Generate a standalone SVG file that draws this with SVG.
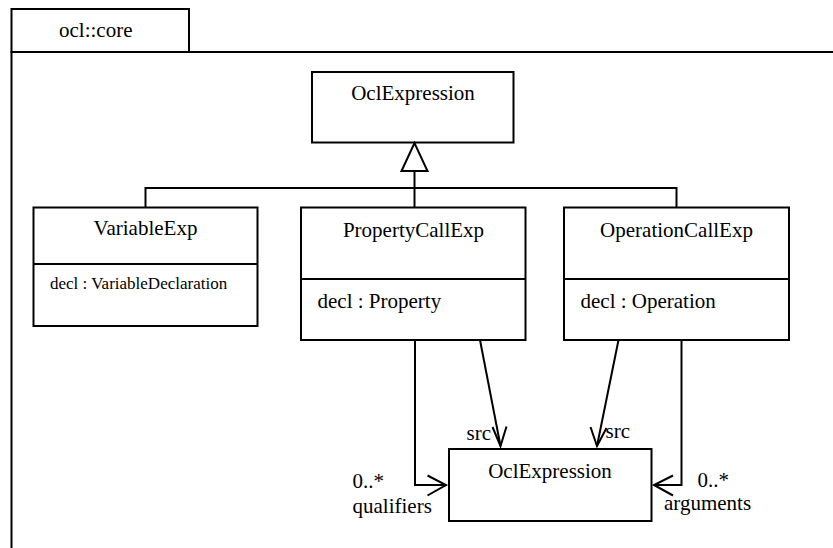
<svg xmlns="http://www.w3.org/2000/svg" width="833" height="548" viewBox="0 0 833 548">
  <style>
    .box { fill: #ffffff; stroke: #000000; stroke-width: 2; }
    .line { fill: none; stroke: #000000; stroke-width: 2; }
    text { font-family: "Liberation Serif", "Times New Roman", serif; font-size: 21px; fill: #000000; }
    .mid { text-anchor: middle; }
    .small { font-size: 17px; }
  </style>

  <!-- package frame ocl::core -->
  <g id="package">
    <path class="line" d="M11.5 560 V52 H845"/>
    <rect class="box" x="11.5" y="9" width="177.5" height="43"/>
    <text x="59" y="37">ocl::core</text>
  </g>

  <g id="OclExpression-top">
    <rect class="box" x="312" y="72" width="201.5" height="70.5"/>
    <text class="mid" x="413" y="100">OclExpression</text>
  </g>

  <g id="VariableExp">
    <rect class="box" x="33.5" y="207.5" width="224" height="118.5"/>
    <line class="line" x1="33.5" y1="264" x2="257.5" y2="264"/>
    <text class="mid" x="145.5" y="235">VariableExp</text>
    <text class="small" x="50" y="289">decl : VariableDeclaration</text>
  </g>

  <g id="PropertyCallExp">
    <rect class="box" x="301" y="207.5" width="224.5" height="132.5"/>
    <line class="line" x1="301" y1="279" x2="525.5" y2="279"/>
    <text class="mid" x="413.5" y="236.5">PropertyCallExp</text>
    <text x="317.5" y="308">decl : Property</text>
  </g>

  <g id="OperationCallExp">
    <rect class="box" x="564" y="207.5" width="225" height="132.5"/>
    <line class="line" x1="564" y1="279" x2="789" y2="279"/>
    <text class="mid" x="676.5" y="236.5">OperationCallExp</text>
    <text x="580.5" y="308">decl : Operation</text>
  </g>

  <g id="OclExpression-bottom">
    <rect class="box" x="449" y="449" width="202.5" height="72"/>
    <text class="mid" x="550" y="477.5">OclExpression</text>
  </g>

  <g id="connectors">
    <!-- generalization tree -->
    <path class="line" d="M145.5 207.5 V188 H676.5 V207.5"/>
    <line class="line" x1="414.5" y1="171" x2="414.5" y2="207.5"/>
    <polygon class="box" points="414.5,143 401.5,171 427.5,171"/>

    <!-- qualifiers -->
    <path class="line" d="M415 340 V485 H446"/>
    <path class="line" d="M427.5 475.5 L446 485 L427.5 495.5"/>

    <!-- arguments -->
    <path class="line" d="M681.5 340 V485 H654"/>
    <path class="line" d="M673 475.5 L654 485 L673 495.5"/>

    <!-- src from PropertyCallExp -->
    <line class="line" x1="480" y1="340" x2="500.5" y2="446"/>
    <path class="line" d="M492.5 427 L500.5 446 L506.5 426.5"/>

    <!-- src from OperationCallExp -->
    <line class="line" x1="618.5" y1="340" x2="597" y2="446"/>
    <path class="line" d="M590.5 427 L597 446 L606.5 428"/>
  </g>

  <g id="labels">
    <text x="466.5" y="440">src</text>
    <text x="605.5" y="438">src</text>
    <text x="352.5" y="487.5">0..*</text>
    <text x="352.5" y="513">qualifiers</text>
    <text x="697.5" y="487">0..*</text>
    <text x="664" y="510">arguments</text>
  </g>
</svg>
